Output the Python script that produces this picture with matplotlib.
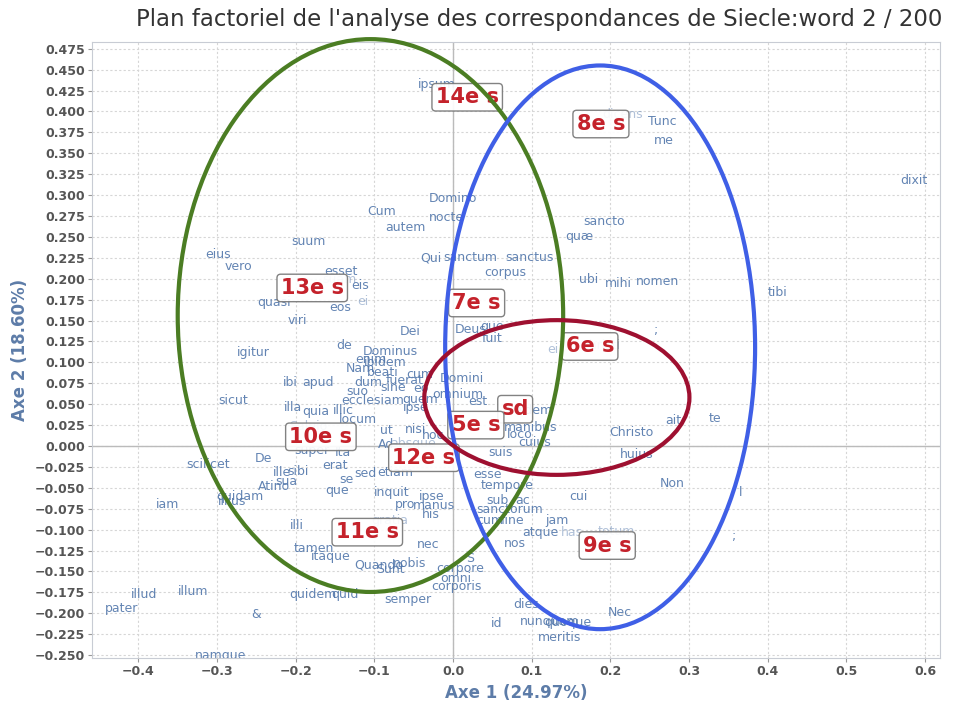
import matplotlib
matplotlib.use("Agg")
import matplotlib.pyplot as plt
from matplotlib.patches import Ellipse
import numpy as np

# words (rows) projected on the first factorial plane
words = ["ipsum", "dicens", "Tunc", "me", "dixit", "Domino", "nocte", "Cum", "autem",
         "sancto", "quæ", "suum", "eius", "vero", "Qui", "sanctum", "sanctus", "corpus",
         "ubi", "mihi", "nomen", "tibi", "esset", "suam", "eis", "ei", "quasi", "eos",
         "viri", "Dei", "Deus", "que", "fuit", "ei", "Christi", ";", "igitur", "de",
         "Dominus", "enim", "ibidem", "Nam", "beati", "cum", "dum", "fuerat", "sine", "eo",
         "suo", "ecclesiam", "quem", "omnium", "est", "ipse", "Domini", "ibi", "apud",
         "sicut", "illa", "quia", "illic", "locum", "ut", "nisi", "hoc", "eidem",
         "manibus", "loco", "cuius", "Christo", "ait", "te", "Saluio", "Ad", "absque",
         "super", "Ita", "suis", "huius", "scilicet", "De", "ille", "sibi", "erat", "sua",
         "se", "sed", "etiam", "que", "Atino", "esse", "tempore", "Non", "l", "iam",
         "quidam", "illius", "inquit", "ipse", "pro", "manus", "his", "sub", "ac",
         "sanctorum", "cum", "fine", "cui", "jam", "atque", "has", "totum", ";", "illi",
         "gratia", "nec", "nos", "tamen", "itaque", "Quando", "nobis", "Sunt", "S",
         "corpore", "omni", "corporis", "semper", "quidem", "quid", "illud", "illum",
         "pater", "&", "namque", "dies", "id", "nunquam", "quoque", "Nec", "meritis"]
word_x = [-0.020, 0.215, 0.266, 0.268, 0.586, 0.000, -0.008, -0.091, -0.060,
          0.192, 0.160, -0.184, -0.299, -0.273, -0.028, 0.022, 0.097, 0.067,
          0.173, 0.210, 0.260, 0.412, -0.142, -0.144, -0.118, -0.114, -0.227, -0.144,
          -0.198, -0.055, 0.022, 0.050, 0.050, 0.127, 0.187, 0.258, -0.254, -0.139,
          -0.080, -0.105, -0.086, -0.118, -0.089, -0.042, -0.108, -0.061, -0.076, -0.041,
          -0.122, -0.102, -0.042, 0.006, 0.032, -0.048, 0.011, -0.207, -0.172,
          -0.280, -0.203, -0.174, -0.139, -0.121, -0.085, -0.048, -0.025, 0.102,
          0.098, 0.085, 0.104, 0.227, 0.280, 0.333, -0.184, -0.085, -0.051,
          -0.179, -0.140, 0.060, 0.234, -0.311, -0.241, -0.217, -0.197, -0.150, -0.212,
          -0.136, -0.112, -0.074, -0.147, -0.227, 0.044, 0.069, 0.278, 0.365, -0.363,
          -0.271, -0.281, -0.078, -0.027, -0.061, -0.024, -0.028, 0.057, 0.088,
          0.072, 0.047, 0.076, 0.160, 0.132, 0.111, 0.151, 0.208, 0.357, -0.199,
          -0.080, -0.032, 0.079, -0.177, -0.155, -0.095, -0.055, -0.080, 0.022,
          0.009, 0.003, 0.004, -0.057, -0.178, -0.137, -0.393, -0.330,
          -0.421, -0.250, -0.296, 0.093, 0.056, 0.123, 0.146, 0.212, 0.136]
word_y = [0.432, 0.396, 0.388, 0.365, 0.317, 0.296, 0.273, 0.280, 0.261,
          0.268, 0.251, 0.245, 0.229, 0.215, 0.225, 0.225, 0.226, 0.208,
          0.199, 0.194, 0.197, 0.184, 0.209, 0.199, 0.192, 0.173, 0.172, 0.166,
          0.150, 0.137, 0.139, 0.143, 0.129, 0.115, 0.120, 0.138, 0.112, 0.120,
          0.113, 0.103, 0.100, 0.093, 0.088, 0.086, 0.076, 0.078, 0.070, 0.069,
          0.065, 0.054, 0.056, 0.062, 0.053, 0.046, 0.081, 0.076, 0.076,
          0.054, 0.046, 0.041, 0.043, 0.032, 0.019, 0.020, 0.012, 0.043,
          0.022, 0.014, 0.004, 0.016, 0.031, 0.033, 0.023, 0.002, 0.003,
          -0.005, -0.008, -0.008, -0.010, -0.022, -0.015, -0.032, -0.030, -0.023, -0.043,
          -0.040, -0.033, -0.032, -0.053, -0.048, -0.034, -0.047, -0.045, -0.055, -0.070,
          -0.060, -0.066, -0.055, -0.060, -0.070, -0.071, -0.082, -0.065, -0.065,
          -0.076, -0.089, -0.089, -0.060, -0.089, -0.103, -0.103, -0.102, -0.108, -0.095,
          -0.089, -0.118, -0.117, -0.123, -0.132, -0.142, -0.140, -0.148, -0.135,
          -0.147, -0.159, -0.168, -0.183, -0.177, -0.177, -0.178, -0.174,
          -0.194, -0.202, -0.251, -0.190, -0.212, -0.210, -0.211, -0.199, -0.229]
faint_words = ["dicens", "suam", "ei", "Christi", "Saluio", "absque", "has", "totum", "gratia"]

# columns (centuries)
periods = ["14e s", "8e s", "13e s", "7e s", "6e s", "sd", "5e s", "10e s", "12e s", "11e s", "9e s"]
period_x = [0.018, 0.188, -0.179, 0.030, 0.174, 0.079, 0.029, -0.168, -0.037, -0.109, 0.196]
period_y = [0.417, 0.385, 0.189, 0.171, 0.119, 0.044, 0.025, 0.011, -0.014, -0.103, -0.119]

# hand-drawn groupings: centre x, centre y, width, height
groups_cx = [-0.105, 0.187, 0.132]
groups_cy = [0.156, 0.118, 0.058]
groups_w = [0.490, 0.394, 0.337]
groups_h = [0.661, 0.674, 0.185]
groups_col = ["#4b7d23", "#3f5fe6", "#9e1030"]

x_ticks = np.round(np.arange(-0.4, 0.61, 0.1), 1)
y_ticks = np.round(np.arange(-0.25, 0.476, 0.025), 3)


def fmt(v, nd):
    s = "%.*f" % (nd, abs(v))
    return ("\u2212" + s) if v < 0 else s


fig = plt.figure(figsize=(9.57, 7.01), dpi=100)
ax = fig.add_axes([0.0961, 0.0613, 0.8861, 0.8787])
ax.set_xlim(-0.459, 0.619)
ax.set_ylim(-0.2535, 0.483)

ax.set_xticks(x_ticks)
ax.set_yticks(y_ticks)
ax.set_xticklabels([fmt(v, 1) for v in x_ticks])
ax.set_yticklabels([fmt(v, 3) for v in y_ticks])
for lab in ax.get_xticklabels() + ax.get_yticklabels():
    lab.set_fontweight("bold")
    lab.set_color("#555555")
    lab.set_fontsize(9)
ax.tick_params(length=3, color="#999999", pad=2)

ax.grid(True, color="#d6d6d6", linestyle=(0, (2, 2)), linewidth=0.8)
ax.set_axisbelow(True)
ax.axhline(0, color="#bbbbbb", lw=1, zorder=1)
ax.axvline(0, color="#bbbbbb", lw=1, zorder=1)
for s in ax.spines.values():
    s.set_color("#c8ccd4")

for w, x, y in zip(words, word_x, word_y):
    a = 0.45 if w in faint_words else 0.9
    ax.text(x, y, w, ha="center", va="center", fontsize=9, color="#5277ab",
            alpha=a, zorder=2, clip_on=True)

for p, x, y in zip(periods, period_x, period_y):
    ax.text(x, y, p, ha="center", va="center", fontsize=15, fontweight="bold",
            color="#c4222b", zorder=3,
            bbox=dict(boxstyle="round,pad=0.18", fc="white", ec="#777777", lw=1, alpha=0.92))

for cx, cy, w, h, c in zip(groups_cx, groups_cy, groups_w, groups_h, groups_col):
    ax.add_patch(Ellipse((cx, cy), w, h, fill=False, ec=c, lw=3, zorder=4, clip_on=False))

ax.set_xlabel("Axe 1 (24.97%)", fontsize=12, fontweight="bold", color="#5d7ca8", labelpad=4)
ax.set_ylabel("Axe 2 (18.60%)", fontsize=12, fontweight="bold", color="#5d7ca8", labelpad=4)
fig.text(0.563, 0.972, "Plan factoriel de l'analyse des correspondances de Siecle:word 2 / 200",
         ha="center", va="center", fontsize=16.5, color="#333333")

fig.savefig("out.png", dpi=100)
